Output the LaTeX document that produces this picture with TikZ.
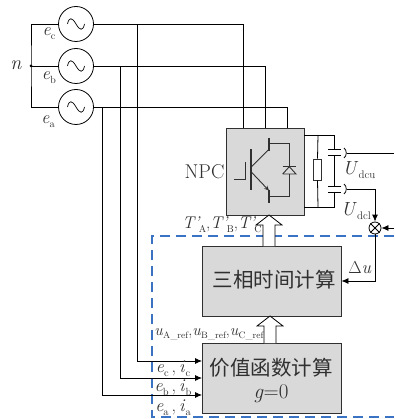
\documentclass[tikz,border=0pt]{standalone}
\usepackage{fontspec}
\newfontfamily\cjk{Noto Sans CJK SC}
\usetikzlibrary{arrows.meta}
\definecolor{boxgray}{HTML}{D9D9D9}
\definecolor{dashblue}{HTML}{3A72C4}
\definecolor{inkc}{HTML}{303030}
\newcommand{\lowtxt}[1]{\edef\subsz{\the\dimexpr.58em\relax}\raisebox{-.22em}{\fontsize{\subsz}{\subsz}\selectfont #1}}
\newcommand{\sv}[2]{\textit{#1}\lowtxt{#2}}
\newcommand{\pv}[2]{\textit{#1'}\kern-.1em\lowtxt{#2}}
\tikzset{
  wire/.style={draw=black,line width=0.8pt},
  arrowwire/.style={wire,-{Latex[length=7pt,width=6pt]}},
  srcnode/.style={draw=black,line width=0.8pt,circle,fill=white,minimum size=35pt,inner sep=0pt},
  blockbox/.style={draw=inkc,line width=0.9pt,fill=boxgray,inner sep=0pt},
  hollow/.style={draw=black,line width=0.8pt,fill=white},
  lab/.style={text=inkc,inner sep=0pt,font=\fontsize{18}{20}\selectfont},
  cjklab/.style={text=inkc,inner sep=0pt,font=\fontsize{20.5}{24}\selectfont\cjk},
}
\begin{document}
\begin{tikzpicture}[x=1pt,y=-1pt]
\useasboundingbox (0,0) rectangle (394,419);
% dashed frame
\draw[dashblue,line width=1.1pt,dash pattern=on 10pt off 6pt] (394,236) -- (152,236) -- (152,417) -- (394,417);
% sources
\node[srcnode] (sc) at (76,24) {};
\node[srcnode] (sb) at (76,66) {};
\node[srcnode] (sa) at (76,107) {};
\foreach \s in {sc,sb,sa}
  \draw[line width=0.7pt] ([xshift=-8.5pt]\s.center) .. controls +(1.5,-7) and +(-4,-7) .. (\s.center) .. controls +(4,7) and +(-1.5,7) .. ([xshift=8.5pt]\s.center);
% neutral
\coordinate (nd) at (31,66);
\draw[wire] (sc.west) -| (nd) |- (sa.west);
\draw[wire] (nd) -- (sb.west);
\fill (nd) circle (1.5pt);
\node[lab,font=\fontsize{20}{22}\selectfont] (ln) at (16,65) {\textit{n}};
\node[lab] (lec) at (49,34) {\sv{e}{c}};
\node[lab] (leb) at (49,78) {\sv{e}{b}};
\node[lab] (lea) at (48,122) {\sv{e}{a}};
% blocks
\node[blockbox,minimum width=78pt,minimum height=87pt] (npc) at (265,171.5) {};
\node[blockbox,minimum width=139pt,minimum height=70pt] (tb) at (271.5,281) {};
\node[blockbox,minimum width=139pt,minimum height=70pt] (gb) at (271.5,378) {};
\coordinate (tc) at (243,128); \coordinate (tbb) at (265,128); \coordinate (ta) at (287,128);
\draw[wire] (sc.east) -| (tc);
\draw[wire] (sb.east) -| (tbb);
\draw[wire] (sa.east) -| (ta);
% measurement feeds
\coordinate (gc) at (202,361); \coordinate (gbb) at (202,378); \coordinate (ga) at (202,395);
\coordinate (jc) at (137,24); \coordinate (jb) at (120,66); \coordinate (ja) at (102,107);
\draw[arrowwire] (jc) |- (gc);
\draw[arrowwire] (jb) |- (gbb);
\draw[arrowwire] (ja) |- (ga);
% IGBT
\begin{scope}[shift={(200,110)},x=0.3333pt,y=-0.3333pt,line width=0.9pt,draw=inkc]
  \draw[inkc] (103,208) -- (135,208) -- (135,155);
  \draw[inkc,line width=1.1pt] (153,118) -- (153,240);
  \draw[inkc] (153,172) -- (207,118);
  \draw[inkc,line width=1.1pt] (207,85) -- (207,122);
  \draw[inkc] (207,100) -- (268,100) -- (268,170);
  \draw[inkc,-{Stealth[open,length=5pt,width=4.5pt]}] (153,185) -- (207,242);
  \draw[inkc,line width=1.1pt] (207,240) -- (207,278);
  \draw[inkc] (207,260) -- (268,260) -- (268,192);
  \draw[inkc] (248,170) -- (288,170);
  \draw[inkc] (248,192) -- (288,192) -- (268,170) -- (248,192);
\end{scope}
\node[lab,font=\fontsize{20}{22}\selectfont] (lnpc) at (204.5,172) {NPC};
% DC link
\coordinate (ptop) at (304,135); \coordinate (pbot) at (304,207);
\coordinate (rt) at (318,135); \coordinate (rb) at (318,207);
\coordinate (ct) at (334,135); \coordinate (cb) at (334,207);
\node[draw=inkc,line width=0.8pt,fill=white,minimum width=8pt,minimum height=21pt,inner sep=0pt] (res) at (317.5,169.5) {};
\draw[wire] (ptop) -- (ct) -- (334,149);
\draw[wire] (pbot) -- (cb) -- (334,192);
\draw[wire] (rt) -- (res.north);
\draw[wire] (res.south) -- (rb);
\draw[wire] (334,155) -- (334,186);
\draw[wire] (328,149) -- (341,149);
\draw[wire] (328,155) -- (341,155);
\draw[wire] (328,186) -- (341,186);
\draw[wire] (328,192) -- (341,192);
\draw[wire] (344,148) .. controls (347,150) and (347,156) .. (344,158);
\draw[wire] (344,184) .. controls (347,186) and (347,192) .. (344,194);
\coordinate (hu) at (346.5,153); \coordinate (hl) at (346.5,189);
\coordinate (eu) at (394,153); \coordinate (er) at (394,228);
\draw[wire] (hu) -- (eu);
% summing junction
\node[draw=black,line width=0.8pt,circle,fill=white,minimum size=12pt,inner sep=0pt] (sum) at (375,228) {};
\draw[wire] (sum.north west) -- (sum.south east);
\draw[wire] (sum.north east) -- (sum.south west);
\draw[arrowwire] (hl) -| (sum.north);
\draw[arrowwire] (er) -- (sum.east);
\draw[arrowwire] (sum.south) |- (tb.east);
% hollow arrows
\draw[hollow] (263,246) -- (263,225) -- (256,225) -- (269,215) -- (282,225) -- (275,225) -- (275,246);
\draw[hollow] (264,343) -- (264,326) -- (257,326) -- (270,316) -- (283,326) -- (276,326) -- (276,343);
% labels
\node[lab,font=\fontsize{19}{20}\selectfont] (lud) at (359,170) {\sv{U}{dcu}};
\node[lab,font=\fontsize{19}{20}\selectfont] (ulo) at (356,211) {\sv{U}{dcl}};
\node[lab,font=\fontsize{17}{20}\selectfont] (lt) at (222,225) {\pv{T}{A},\pv{T}{B},\pv{T}{C}};
\node[lab,font=\fontsize{18}{20}\selectfont] (ldu) at (360,268) {$\Delta$\textit{u}};
\node[lab,font=\fontsize{16}{18}\selectfont] (luref) at (209,334) {\sv{u}{A\_ref},\sv{u}{B\_ref},\sv{u}{C\_ref}};
\node[lab] (l1) at (173,369) {\sv{e}{c}\,,\,\sv{i}{c}};
\node[lab] (l2) at (173,388) {\sv{e}{b}\,,\,\sv{i}{b}};
\node[lab] (l3) at (173,408) {\sv{e}{a}\,,\,\sv{i}{a}};
\node[cjklab] (t1) at (274,280) {三相时间计算};
\node[cjklab] (t2) at (271,368) {价值函数计算};
\node[lab,font=\fontsize{21}{24}\selectfont] (t3) at (271,394) {\textit{g}=0};
\end{tikzpicture}
\end{document}
